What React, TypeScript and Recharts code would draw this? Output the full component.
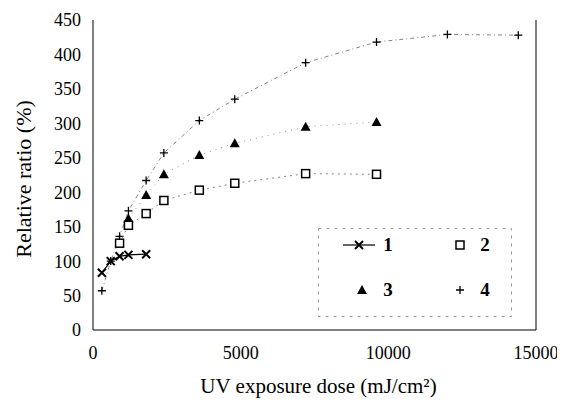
import React from "react";
import { ScatterChart, Scatter, XAxis, YAxis } from "recharts";

// UV dose steps (mJ/cm2)
const doses = [300, 600, 900, 1200, 1800, 2400, 3600, 4800, 7200, 9600, 12000, 14400];

const ratio1 = [83, 100, 107, 109, 110]; // doses 300..1800
const ratio2 = [126, 152, 169, 188, 203, 213, 227, 226]; // doses 900..9600
const ratio3 = [162, 196, 226, 254, 271, 295, 302]; // doses 1200..9600
const ratio4 = [57, 100, 136, 173, 217, 257, 304, 335, 388, 418, 429, 428];

const xTicks = [0, 5000, 10000, 15000];
const yTicks = [0, 50, 100, 150, 200, 250, 300, 350, 400, 450];

const pts = (vals: number[], start: number) =>
  vals.map((v, i) => ({ x: doses[start + i], y: v }));

const data1 = pts(ratio1, 0);
const data2 = pts(ratio2, 2);
const data3 = pts(ratio3, 3);
const data4 = pts(ratio4, 0);

const serif = "Liberation Serif, DejaVu Serif, serif";

const Cross = ({ cx, cy }: any) => (
  <path
    d={`M${cx - 4},${cy - 4}L${cx + 4},${cy + 4}M${cx - 4},${cy + 4}L${cx + 4},${cy - 4}`}
    stroke="#000"
    strokeWidth={2}
  />
);
const Square = ({ cx, cy }: any) => (
  <rect x={cx - 4} y={cy - 4} width={8} height={8} fill="#fff" stroke="#000" strokeWidth={1.5} />
);
const Tri = ({ cx, cy }: any) => (
  <path d={`M${cx},${cy - 5}L${cx + 5},${cy + 4}L${cx - 5},${cy + 4}Z`} fill="#000" />
);
const Plus = ({ cx, cy }: any) => (
  <path
    d={`M${cx - 4},${cy}L${cx + 4},${cy}M${cx},${cy - 4}L${cx},${cy + 4}`}
    stroke="#000"
    strokeWidth={1.3}
  />
);

const LegendBox = () => (
  <svg width={194} height={89} style={{ position: "absolute", left: 310, top: 220 }}>
    <rect x={0.5} y={0.5} width={193} height={88} fill="none" stroke="#999" strokeDasharray="3 5" />
    <g style={{ fontFamily: serif }} fontSize={19} fontWeight="bold" fill="#000">
      <line x1={25} y1={17} x2={57} y2={17} stroke="#000" strokeWidth={1.2} />
      <Cross cx={41} cy={17} />
      <text x={70} y={23} textAnchor="middle">1</text>
      <Square cx={142} cy={17} />
      <text x={167} y={23} textAnchor="middle">2</text>
      <Tri cx={44} cy={62} />
      <text x={70} y={68} textAnchor="middle">3</text>
      <Plus cx={142} cy={62} />
      <text x={167} y={68} textAnchor="middle">4</text>
    </g>
  </svg>
);

const tickStyle = { fill: "#000", fontSize: 18, style: { fontFamily: serif } };

export default function App() {
  return (
    <div
      style={{
        position: "relative",
        width: 557,
        height: 399,
        background: "#fff",
        fontFamily: serif,
      }}
    >
      <ScatterChart
        width={557}
        height={399}
        margin={{ top: 12, right: 28, left: 0, bottom: 0 }}
        style={{ fontFamily: serif }}
      >
        <XAxis
          type="number"
          dataKey="x"
          domain={[0, 15000]}
          ticks={xTicks}
          interval={0}
          height={77}
          tick={tickStyle}
          tickLine={false}
          tickSize={0}
          tickMargin={16}
          axisLine={{ stroke: "#000" }}
          label={{
            value: "UV exposure dose (mJ/cm²)",
            position: "center",
            dx: 4,
            dy: 17,
            fill: "#000",
            fontSize: 21,
            style: { fontFamily: serif },
          }}
        />
        <XAxis
          xAxisId="top"
          orientation="top"
          type="number"
          dataKey="x"
          domain={[0, 15000]}
          height={0}
          tick={false}
          tickLine={false}
          axisLine={{ stroke: "#000" }}
        />
        <YAxis
          type="number"
          dataKey="y"
          domain={[0, 450]}
          ticks={yTicks}
          interval={0}
          width={85}
          tick={tickStyle}
          tickLine={false}
          tickSize={0}
          tickMargin={12}
          axisLine={{ stroke: "#000" }}
          label={{
            value: "Relative ratio (%)",
            angle: -90,
            position: "center",
            dx: -27,
            dy: 4,
            fill: "#000",
            fontSize: 22,
            style: { fontFamily: serif },
          }}
        />
        <YAxis
          yAxisId="right"
          orientation="right"
          type="number"
          dataKey="y"
          domain={[0, 450]}
          width={1}
          tick={false}
          tickLine={false}
          axisLine={{ stroke: "#000" }}
        />
        <Scatter
          data={data4}
          line={{ stroke: "#666", strokeWidth: 0.8, strokeDasharray: "4 3 1 3" }}
          shape={(p: any) => <Plus cx={p.cx} cy={p.cy} />}
          isAnimationActive={false}
        />
        <Scatter
          data={data3}
          line={{ stroke: "#777", strokeWidth: 0.8, strokeDasharray: "1 5" }}
          shape={(p: any) => <Tri cx={p.cx} cy={p.cy} />}
          isAnimationActive={false}
        />
        <Scatter
          data={data2}
          line={{ stroke: "#666", strokeWidth: 0.8, strokeDasharray: "2 4" }}
          shape={(p: any) => <Square cx={p.cx} cy={p.cy} />}
          isAnimationActive={false}
        />
        <Scatter
          data={data1}
          line={{ stroke: "#000", strokeWidth: 1.2 }}
          shape={(p: any) => <Cross cx={p.cx} cy={p.cy} />}
          isAnimationActive={false}
        />
      </ScatterChart>
      <LegendBox />
    </div>
  );
}
